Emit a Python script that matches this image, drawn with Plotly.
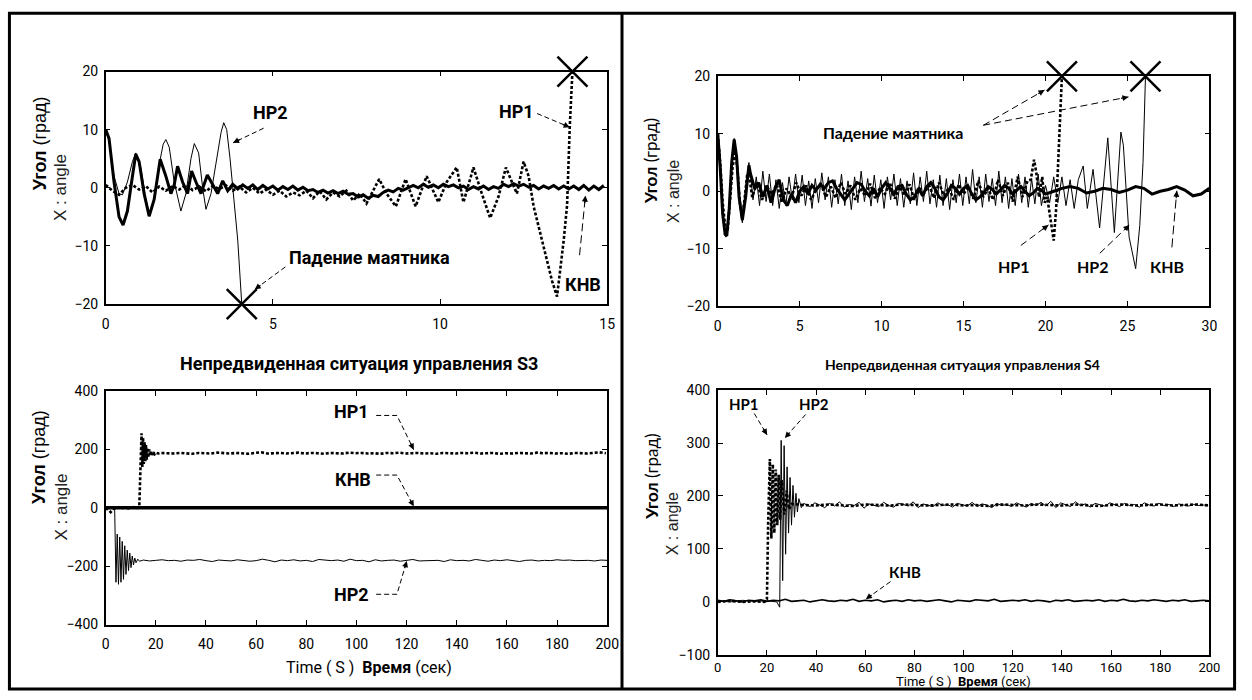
import plotly.graph_objects as go

W, H = 1252, 700
NARROW = "Roboto, Liberation Sans Narrow, sans-serif"
ARIAL = "Liberation Sans, Arial, sans-serif"
CAL = "Lato, Carlito, Calibri, sans-serif"

# ---------------- DATA ----------------
# Top-left (S3, angle, 0..15 s)
tl_knv_t_early = [0, 0.1, 0.25, 0.4, 0.52, 0.65, 0.8, 0.9, 1.0, 1.15, 1.3, 1.45, 1.63, 1.8, 1.95, 2.05, 2.15, 2.3, 2.45, 2.57, 2.7, 2.85, 3.04, 3.2, 3.35, 3.5, 3.65]
tl_knv_v_early = [10, 8.5, 1, -5, -6.4, -4, 2, 5.8, 4.5, -1, -4.9, -2, 4.9, 2, -1, 0.5, 3.7, 1, -1, 2.9, 1, -1, 2.2, 0.5, -1, 1.2, -0.5]
tl_knv_tail_start, tl_knv_tail_step = 3.8, 0.15
tl_knv_tail = [0.6, -0.2, 0.5, -0.1, 0.5, -0.3, 0.4, -0.2,
               0.3, -0.4, 0.2, -0.3, 0.3, -0.4, 0.1, -0.5,
               -0.3, -0.8, -0.4, -0.9, -0.5, -1.0, -0.6, -1.1,
               -1.0, -1.6, -1.2, -1.8, -1.3, -1.5,
               -0.8, -0.4, -0.7, -0.1, -0.4, 0.0,
               0.4, 0.0, 0.6, 0.1, 0.5, 0.0, 0.6, 0.2, 0.5, 0.0,
               0.3, -0.3, 0.2, -0.2, 0.3, -0.3, 0.2, -0.1,
               0.6, 0.2, 0.7, 0.3, 0.6, 0.1,
               0.4, -0.2, 0.3, -0.1, 0.4, -0.2, 0.3, -0.2,
               0.3, -0.3, 0.4, -0.4, 0.3, -0.3, 0.4]

tl_hp1_head_start, tl_hp1_head_step = 0.0, 0.2
tl_hp1_head = [0.5, -0.5, -1.2, 0, 0.5, -0.3, 0.3, -0.8, 0.2, -0.5, 0.3, -0.3, 0.5, -0.4, 0.2, -0.6, 0.3, -0.2, 0.4, -0.5,
               0.2, -0.8, 0.0, -1.0, -0.3, -1.2, -0.5, -1.5, -0.8, -1.3, -0.5, -1.8, -0.6, -2.0, -0.8, -1.5, -0.5, -2.2, -1.0]
tl_hp1_t_late = [7.8, 8.0, 8.18, 8.4, 8.68, 8.97, 9.27, 9.6, 9.95, 10.2, 10.5, 10.7, 11.0, 11.25, 11.5, 11.75, 11.97, 12.15, 12.3, 12.5, 12.65, 12.8, 13.0, 13.2, 13.35, 13.5, 13.6, 13.7, 13.8, 13.88, 13.96]
tl_hp1_v_late = [-2.7, -0.5, 1.5, -1, -3.2, 1.5, -3.2, 2, -2.5, 1, 3.5, -2.5, 3.5, -1, -5.2, -1.5, 3.5, 1, -1, 4.5, 2, -3.2, -8, -12.3, -16, -18.7, -14, -9, -3, 10.4, 20]

tl_hp2_t = [0, 0.1, 0.25, 0.4, 0.5, 0.65, 0.8, 0.9, 1.05, 1.2, 1.32, 1.45, 1.6, 1.72, 1.8, 1.9, 2.05, 2.25, 2.4, 2.55, 2.65, 2.78, 2.9, 3.0, 3.15, 3.3, 3.45, 3.53, 3.62, 3.72, 3.8, 3.95, 4.07]
tl_hp2_v = [10, 8, 2, -1, -1.2, 1, 4.5, 6, 3.5, -2, -4.6, -2, 4, 7.5, 8.3, 7, 1, -4, -1, 5, 7.6, 6, 0, -3.7, -1, 4, 9.5, 11.2, 10, 5, 0.5, -9, -20]

tl_fall_t = [4.07, 13.96]
tl_fall_v = [-20, 20]

# Top-right (S4, angle, 0..30 s)
tr_knv_t_early = [0, 0.15, 0.3, 0.45, 0.55, 0.7, 0.85, 1.0, 1.15, 1.3, 1.5, 1.7, 1.9]
tr_knv_v_early = [10, 4, -4, -7.5, -7.8, -3, 5, 9, 6, -1, -5, -1, 4.5]
tr_knv_mid_start, tr_knv_mid_step = 2.0, 0.25
tr_knv_mid = [3, 0.5, 1.5, -1, 1, -2, 0.5, 2, -1.5, -2.5, -0.5, -2, 0, 0.8, -0.5, 1, 0.2, 1.2, 0.5, 1.5,
              1.8, 0.5, -0.5, -1.5, -0.5, 0.5, 1.5, 1.2, 0, -0.8, 0.5, -1, 0.5, 1.5, 0.5, -0.5, 0.8, 1, -0.5, -1.5,
              -1, 0.5, -0.8, 0.8, 1.5, 0.5, -1, -1.5, -0.5, 1, 0.5, -0.5, 0.5, 1, -0.5, -1.5, -1, -0.2, 0.8, 0.3,
              -0.5, 0.3, 1, 0.5, -0.5, 0.2, 0.8, 0, -0.8, -0.3, 0.5, 0.2, -0.5]
tr_knv_late_start, tr_knv_late_step = 20.5, 0.5
tr_knv_late = [0, 0.5, 0.8, 0.5, -0.3, 0, 0.5, 0.3, -0.2, 0.2, 0.8, 0.5, -0.5, 0, 0.3, 0.8, 0.2, -0.8, -0.5, 0.5]

tr_hp2_t_early = [0, 0.1, 0.2, 0.35, 0.5, 0.6, 0.75, 0.9, 1.0, 1.1, 1.25, 1.4, 1.5, 1.6, 1.75, 1.9, 2.0]
tr_hp2_v_early = [10, 8, 3, -5, -8, -6, 0, 7, 9.2, 7, 1, -4, -5.5, -3, 2, 5, 3]
tr_hp2_mid_start, tr_hp2_mid_step = 2.15, 0.2
tr_hp2_mid = [-1.5, 2.5, -2.5, 3.5, -1.8, 3, -2.5, 2, -3, 1.5, -2.5, 2.5, -1.5, 3, -2, 2.8, -2.5, 1.8, -3, 2.2,
              -2, 3.2, -1.5, 2.5, -2.8, 2, -2.2, 3, -2.5, 1.8, -3.2, 2.5, -2, 3.5, -1.8, 2.2, -2.6, 2.8, -2, 2,
              -3, 2.5, -1.5, 3, -2.5, 2.2, -2.8, 1.8, -2.2, 3.2, -2.5, 2.5, -1.8, 3.5, -2.2, 2, -2.8, 2.8, -2.5, 2.2,
              -3.2, 2, -2, 3, -2.5, 2.5, -2.2, 3.8, -2, 2.5, -2.8, 3, -1.8, 2.2, -2.5, 3.5, -2, 2.5, -3, 2.2,
              -2.5, 3, -2, 2.5, -2.8, 2.2, -2.2, 3, -2.5]
tr_hp2_t_late = [20.0, 20.25, 20.5, 20.75, 21.0, 21.25, 21.5, 21.75, 22.0, 22.3, 22.55, 22.9, 23.3, 23.8, 24.2, 24.6, 24.75, 25.1, 25.5, 25.75, 25.95, 26.1]
tr_hp2_v_late = [1, -2, 2.5, -2, 2.5, -2.5, 2, -3, 2, 4.4, -3, 3.8, -6.4, 9.3, -7.2, 10.3, 8, -8, -13.5, -6, 5, 20]

tr_hp1_t_early = [0, 0.15, 0.3, 0.45, 0.6, 0.75, 0.9, 1.05, 1.2, 1.35, 1.5, 1.65, 1.8, 1.95]
tr_hp1_v_early = [10, 5, -2, -6, -7, -2, 4, 7, 4, -2, -4.5, -1, 3, 2]
tr_hp1_mid_start, tr_hp1_mid_step = 2.1, 0.3
tr_hp1_mid = [-1, 1.5, -1.5, 0.8, -0.5, 1.2, -1.8, 0.5, -1, 1.5, -0.8, 1, -1.5, 0.3, 1.2, -1, 0.8, -1.2, 1.5, -0.5,
              1, -1.5, 0.5, -0.8, 1.3, -1.2, 0.6, -0.5, 1.5, -1.3, 0.8, -0.8, 1.2, -1.5, 0.5, -0.3, 1, -1.2, 1.5, -0.8,
              0.6, -1.5, 1.2, -0.5, 0.8, -1.3, 1.8, -1, 0.5, -1.5, 2, -0.8, 1.5, -1.8, 2.5, -1, 1.8]
tr_hp1_t_late = [19.1, 19.3, 19.45, 19.6, 19.8, 19.95, 20.1, 20.3, 20.5, 20.65, 20.8, 21.0]
tr_hp1_v_late = [2, 5.5, 3, -1, 2.5, -2, -1, -5, -8.6, -3, 8, 20]

tr_fall_t = [21.0, 26.1]
tr_fall_v = [20, 20]

# Bottom-left (S3, 0..200 s)
bl_knv_t = [0, 50, 100, 150, 200]
bl_knv_v = [0, 0, 0, 0, 0]
bl_hp1_t_early = [0, 1, 2, 3, 4, 5, 6, 7, 8, 9, 10, 11, 12, 13, 13.4, 13.8, 14.3, 14.6, 14.9, 15.2, 15.5, 15.8, 16.1, 16.4, 16.7, 17.0, 17.4, 17.8, 18.2, 18.6, 19.0, 19.5, 20, 21, 22]
bl_hp1_v_early = [0, -8, -15, -5, 0, 2, -3, 0, 1, -2, 0, 2, -1, 0, 5, 120, 255, 140, 240, 150, 225, 160, 215, 165, 205, 172, 200, 178, 194, 181, 190, 184, 189, 186, 188]
bl_hp1_tail_start, bl_hp1_tail_step = 24.5, 2.5
bl_hp1_tail = [187, 186, 188, 187, 185, 188, 187, 186, 189, 187, 186, 188, 187, 185, 188, 190, 186, 187, 188, 186,
               187, 189, 186, 188, 187, 185, 188, 187, 186, 189, 187, 188, 186, 187, 185, 188, 187, 189, 186, 187,
               188, 186, 187, 185, 188, 187, 186, 188, 187, 189, 186, 187, 188, 185, 187, 186, 188, 187, 186, 189,
               187, 188, 186, 187, 185, 188, 187, 186, 188, 190, 187]
bl_hp2_t_early = [0, 1, 2, 3, 3.6, 4.1, 4.6, 5.1, 5.6, 6.1, 6.6, 7.1, 7.6, 8.1, 8.6, 9.1, 9.6, 10.1, 10.6, 11.1, 11.6, 12.1, 12.8, 13.5]
bl_hp2_v_early = [0, -3, 2, -2, -10, -255, -90, -262, -100, -255, -115, -245, -130, -228, -145, -215, -155, -205, -165, -196, -172, -188, -176, -183]
bl_hp2_tail_start, bl_hp2_tail_step = 15.0, 2.5
bl_hp2_tail = [-179, -182, -180, -178, -181, -180, -183, -179, -180, -177, -181, -184, -179, -180, -182, -178, -180, -183, -181, -176,
               -180, -185, -179, -181, -178, -182, -180, -184, -177, -180, -181, -179, -183, -176, -181, -180, -185, -178, -182, -180,
               -179, -183, -180, -177, -182, -181, -179, -180, -184, -178, -181, -180, -182, -177, -180, -183, -179, -181, -178, -180,
               -184, -180, -179, -182, -180, -181, -178, -180, -179, -181, -180, -180, -182, -179, -180]

# Bottom-right (S4, 0..200 s)
br_knv_start, br_knv_step = 0.0, 2.5
br_knv = [3, 1, 4, 2, 0, 3, 2, 4, 1, 3, 2, 5, 1, 2, 3, 0, 2, 4, 2, 1,
          3, 2, 5, 1, 3, 2, 4, 0, 2, 3, 1, 4, 2, 3, 1, 2, 4, 2, 0, 3,
          2, 1, 4, 3, 2, 5, 1, 2, 3, 2, 4, 1, 3, 2, 0, 3, 2, 4, 1, 2,
          3, 2, 4, 1, 3, 2, 5, 2, 1, 3, 2, 4, 2, 1, 3, 2, 4, 1, 2, 3, 2]
br_hp1_t_early = [0, 5, 10, 15, 19, 20, 20.5, 21.2, 21.8, 22.4, 23.0, 23.6, 24.2, 24.8, 25.4, 26, 27, 28, 29, 30]
br_hp1_v_early = [0, 2, 0, 1, 0, 5, 150, 270, 120, 260, 130, 250, 145, 240, 155, 230, 165, 210, 175, 185]
br_hp1_tail_start, br_hp1_tail_step = 35.0, 5.0
br_hp1_tail = [183, 182, 184, 183, 181, 184, 183, 182, 184, 183, 182, 183, 184, 182, 183, 181, 184, 183, 182, 184,
               183, 182, 184, 183, 181, 183, 184, 182, 183, 184, 182, 183, 184, 182]
br_hp2_t_early = [0, 5, 10, 15, 20, 24, 25.2, 25.8, 26.4, 27.0, 27.6, 28.2, 28.8, 29.4, 30.0, 30.6, 31.2, 31.8, 32.4, 33.0, 34, 35]
br_hp2_v_early = [2, 0, 3, 1, 2, 0, -10, 305, 40, 295, 90, 255, 130, 235, 145, 220, 160, 205, 170, 195, 178, 186]
br_hp2_tail_start, br_hp2_tail_step = 37.5, 2.0
br_hp2_tail = [180, 187, 183, 178, 186, 181, 189, 179, 184, 182, 188, 177, 185, 183, 180, 188, 182, 179, 186, 184,
               181, 189, 178, 185, 183, 180, 187, 182, 184, 179, 186, 183, 181, 188, 180, 185, 183, 178, 186, 182,
               184, 180, 187, 183, 179, 186, 182, 188, 181, 190, 178, 187, 183, 180, 189, 182, 185, 179, 186, 184,
               181, 187, 183, 180, 186, 182, 184, 179, 187, 183, 181, 186, 182, 184, 180, 185, 183, 181, 184, 182, 183, 182]


# ---------------- helpers ----------------
def grid(t0, step, vals):
    return [round(t0 + step * i, 4) for i in range(len(vals))]


def px(x):
    return x / W


def py(y):
    return 1 - y / H


THICK = dict(color="black", width=3)
THIN = dict(color="black", width=1)
DOT = dict(color="black", width=2.6, dash="3px,2px")

fig = go.Figure()


def line(xs, ys, style, ax):
    fig.add_trace(go.Scatter(x=xs, y=ys, mode="lines", line=style, xaxis="x" + ax, yaxis="y" + ax,
                             hoverinfo="skip", showlegend=False))


def falls(xs, ys, ax):
    fig.add_trace(go.Scatter(x=xs, y=ys, mode="markers", xaxis="x" + ax, yaxis="y" + ax, cliponaxis=False,
                             marker=dict(symbol="x-thin", size=30, color="black", line=dict(color="black", width=2.5)),
                             hoverinfo="skip", showlegend=False))


# top-left  (axis suffix "")
line(tl_hp2_t, tl_hp2_v, THIN, "")
line(tl_knv_t_early + grid(tl_knv_tail_start, tl_knv_tail_step, tl_knv_tail),
     tl_knv_v_early + tl_knv_tail, THICK, "")
line(grid(tl_hp1_head_start, tl_hp1_head_step, tl_hp1_head) + tl_hp1_t_late,
     tl_hp1_head + tl_hp1_v_late, DOT, "")
falls(tl_fall_t, tl_fall_v, "")

# bottom-left  ("2")
line(bl_knv_t, bl_knv_v, dict(color="black", width=3.5), "2")
line(bl_hp2_t_early + grid(bl_hp2_tail_start, bl_hp2_tail_step, bl_hp2_tail),
     bl_hp2_v_early + bl_hp2_tail, THIN, "2")
line(bl_hp1_t_early + grid(bl_hp1_tail_start, bl_hp1_tail_step, bl_hp1_tail),
     bl_hp1_v_early + bl_hp1_tail, DOT, "2")

# top-right ("3")
line(tr_hp2_t_early + grid(tr_hp2_mid_start, tr_hp2_mid_step, tr_hp2_mid) + tr_hp2_t_late,
     tr_hp2_v_early + tr_hp2_mid + tr_hp2_v_late, THIN, "3")
line(tr_knv_t_early + grid(tr_knv_mid_start, tr_knv_mid_step, tr_knv_mid) + grid(tr_knv_late_start, tr_knv_late_step, tr_knv_late),
     tr_knv_v_early + tr_knv_mid + tr_knv_late, THICK, "3")
line(tr_hp1_t_early + grid(tr_hp1_mid_start, tr_hp1_mid_step, tr_hp1_mid) + tr_hp1_t_late,
     tr_hp1_v_early + tr_hp1_mid + tr_hp1_v_late, DOT, "3")
falls(tr_fall_t, tr_fall_v, "3")

# bottom-right ("4")
line(grid(br_knv_start, br_knv_step, br_knv), br_knv, dict(color="black", width=1.6), "4")
line(br_hp2_t_early + grid(br_hp2_tail_start, br_hp2_tail_step, br_hp2_tail),
     br_hp2_v_early + br_hp2_tail, THIN, "4")
line(br_hp1_t_early + grid(br_hp1_tail_start, br_hp1_tail_step, br_hp1_tail),
     br_hp1_v_early + br_hp1_tail, DOT, "4")

# ---------------- axes ----------------
base = dict(showline=True, linecolor="black", linewidth=1.5, mirror="ticks", ticks="inside", ticklen=5,
            tickwidth=1, tickcolor="black", showgrid=False, zeroline=False, fixedrange=True)
common = dict(base, tickfont=dict(family=NARROW, size=14, color="black"))
small = dict(base, tickfont=dict(family=NARROW, size=13, color="black"))

layout_axes = dict(
    xaxis=dict(domain=[px(103), px(611)], anchor="y", range=[0, 15], tickvals=[0, 5, 10, 15], ticklabelstandoff=6, **common),
    yaxis=dict(domain=[py(303), py(65)], anchor="x", range=[-20, 20], tickvals=[-20, -10, 0, 10, 20], ticklabelstandoff=3, **common),
    xaxis2=dict(domain=[px(103), px(611)], anchor="y2", range=[0, 200], tickvals=list(range(0, 201, 20)), ticklabelstandoff=6, **common),
    yaxis2=dict(domain=[py(631), py(392)], anchor="x2", range=[-400, 400], tickvals=[-400, -200, 0, 200, 400], ticklabelstandoff=3, **common),
    xaxis3=dict(domain=[px(723), px(1221)], anchor="y3", range=[0, 30], tickvals=[0, 5, 10, 15, 20, 25, 30], ticklabelstandoff=6, **common),
    yaxis3=dict(domain=[py(305), py(70)], anchor="x3", range=[-20, 20], tickvals=[-20, -10, 0, 10, 20], ticklabelstandoff=3, **common),
    xaxis4=dict(domain=[px(723), px(1221)], anchor="y4", range=[0, 200], tickvals=list(range(0, 201, 20)), ticklabelstandoff=0, **small),
    yaxis4=dict(domain=[py(662), py(391)], anchor="x4", range=[-100, 400], tickvals=[-100, 0, 100, 200, 300, 400], ticklabelstandoff=3, **common),
)

shapes = []
annotations = []

# outer frame + divider
shapes.append(dict(type="rect", xref="paper", yref="paper", x0=px(5.5), x1=px(1246.5), y0=py(697), y1=py(5.5),
                   line=dict(color="black", width=3)))
shapes.append(dict(type="line", xref="paper", yref="paper", x0=px(626), x1=px(626), y0=py(697), y1=py(5.5),
                   line=dict(color="black", width=3)))


def text(x, y, s, family, size, bold=True, angle=0, color="black", yanchor="middle"):
    annotations.append(dict(xref="paper", yref="paper", x=px(x), y=py(y), text=("<b>%s</b>" % s) if bold else s,
                            showarrow=False, textangle=angle, xanchor="center", yanchor=yanchor,
                            font=dict(family=family, size=size, color=color)))


def leader(points, dash="5px,3px"):
    path = "M " + " L ".join("%f,%f" % (px(x), py(y)) for x, y in points)
    shapes.append(dict(type="path", xref="paper", yref="paper", path=path,
                       line=dict(color="black", width=1, dash=dash)))
    (x1, y1), (x2, y2) = points[-2], points[-1]
    dx, dy = x1 - x2, y1 - y2
    n = (dx * dx + dy * dy) ** 0.5
    annotations.append(dict(xref="paper", yref="paper", x=px(x2), y=py(y2), text="", showarrow=True,
                            ax=dx / n * 9, ay=dy / n * 9, axref="pixel", ayref="pixel",
                            arrowhead=2, arrowsize=1, arrowwidth=1.2, arrowcolor="black"))


# --- top-left labels
text(270, 107, "НР2", NARROW, 18)
leader([(263, 123), (232, 138)])
text(519, 106, "НР1", NARROW, 18)
leader([(540, 108), (573, 122)])
text(370, 255, "Падение маятника", NARROW, 18)
leader([(285, 265), (254, 288)])
text(587, 283, "КНВ", NARROW, 18)
leader([(583, 253), (589, 192)], dash="8px,4px")

# --- bottom-left labels
text(360, 364, "Непредвиденная ситуация управления S3", NARROW, 18)
text(352, 413, "НР1", NARROW, 18)
leader([(377, 417), (398, 417), (415, 452)])
text(354, 483, "КНВ", NARROW, 18)
leader([(377, 478), (398, 478), (415, 510)])
text(352, 600, "НР2", NARROW, 18)
leader([(377, 600), (398, 600), (408, 566)])

# --- top-right labels
text(901, 127, "Падение маятника", CAL, 16)
leader([(992, 120), (1054, 84)], dash="7px,4px")
leader([(992, 120), (1139, 91)], dash="7px,4px")
text(1023, 265, "НР1", CAL, 16)
leader([(1030, 243), (1058, 222)], dash="7px,4px")
text(1103, 265, "НР2", CAL, 16)
leader([(1110, 251), (1140, 222)], dash="7px,4px")
text(1178, 265, "КНВ", CAL, 16)
leader([(1183, 245), (1188, 187)], dash="9px,4px")

# --- bottom-right labels
text(971, 365, "Непредвиденная ситуация управления S4", CAL, 14)
text(750, 405, "НР1", CAL, 15)
leader([(760, 415), (773, 437)], dash="5px,3px")
text(820, 405, "НР2", CAL, 15)
leader([(812, 416), (791, 440)], dash="5px,3px")
text(913, 577, "КНВ", CAL, 15)
leader([(898, 587), (873, 605)], dash="5px,3px")

# axis titles (left panel)
for yc1, yc2 in [(139, 184), (460, 511)]:
    text(36, yc1, "<b>Угол</b> (град)", ARIAL, 18, bold=False, angle=-90)
    text(58, yc2, "X : angle", ARIAL, 17, bold=False, angle=-90, color="#222")
# axis titles (right panel)
for yc1, yc2 in [(157, 188), (480, 528)]:
    text(655, yc1, "<b>Угол</b> (град)", CAL, 17, bold=False, angle=-90)
    text(678, yc2, "X : angle", ARIAL, 16, bold=False, angle=-90, color="#222")

# x-axis titles
text(370, 675, "Time ( S )  <b>Время</b> (сек)", NARROW, 16, bold=False)
text(972, 699, "Time ( S )  <b>Время</b> (сек)", NARROW, 13, bold=False, yanchor="bottom")

fig.update_layout(width=W, height=H, margin=dict(l=0, r=0, t=0, b=0), paper_bgcolor="white",
                  plot_bgcolor="white", showlegend=False, shapes=shapes, annotations=annotations, **layout_axes)

fig.write_html("out.html")
